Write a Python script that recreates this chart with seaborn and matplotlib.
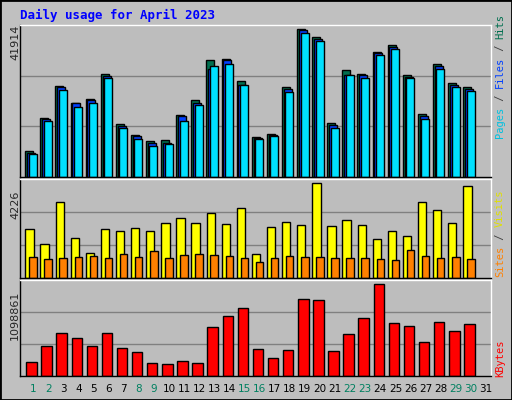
import numpy as np
import pandas as pd
import matplotlib
matplotlib.use("Agg")
import matplotlib.pyplot as plt
import seaborn as sns

days = list(range(1, 32))
hits = [7310, 16470, 25330, 20630, 21740, 28410, 14800, 11750, 10090, 10360, 17300, 21280, 32290, 32570, 26560, 11200, 12030, 24800, 40900, 38680, 15080, 29520, 28410, 34510, 36460, 28130, 17580, 31180, 25910, 24800, np.nan]
files = [6750, 16190, 24800, 20360, 21190, 27850, 14250, 11470, 9530, 9530, 17030, 20630, 29790, 32290, 25350, 10920, 11750, 24240, 40620, 38120, 14530, 28130, 28130, 34240, 35900, 27570, 17030, 30630, 25350, 24240, np.nan]
pages = [6480, 15640, 23970, 19520, 20630, 27300, 13690, 10640, 8700, 9250, 15640, 20080, 30630, 31180, 25350, 10640, 11470, 23410, 39790, 37570, 13690, 28130, 27300, 33680, 35350, 27300, 16190, 29790, 24800, 23690, np.nan]
visits = [2076, 1462, 3260, 1725, 1067, 2076, 1988, 2120, 1988, 2339, 2559, 2339, 2778, 2295, 2997, 1023, 2164, 2383, 2251, 4050, 2208, 2471, 2251, 1681, 1988, 1813, 3260, 2909, 2339, 3918, np.nan]
sites = [892, 804, 848, 892, 936, 848, 1023, 892, 1155, 848, 980, 1023, 980, 936, 848, 672, 848, 936, 892, 892, 848, 848, 848, 804, 760, 1199, 936, 848, 892, 804, np.nan]
kbytes = [165000, 349000, 487000, 441000, 349000, 487000, 326000, 280000, 154000, 142000, 177000, 154000, 557000, 684000, 776000, 315000, 211000, 303000, 879000, 868000, 292000, 476000, 661000, 1058000, 603000, 568000, 395000, 614000, 510000, 591000, np.nan]
weekend = [1, 2, 8, 9, 15, 16, 22, 23, 29, 30]

BG = "#c0c0c0"
fig = plt.figure(figsize=(5.12, 4.0), dpi=100, facecolor=BG)
sns.set_style("white")
plt.rcParams["font.family"] = ["DejaVu Sans Mono", "DejaVu Sans"]

def mkax(y0, y1):
    ax = fig.add_axes([20/512, 1 - y1/400, 471/512, (y1 - y0)/400])
    ax.set_facecolor("#bdbdbd")
    for s in ax.spines.values():
        s.set_color("black"); s.set_linewidth(1)
    ax.spines["top"].set_color("white"); ax.spines["right"].set_color("white")
    return ax

x = np.array(days, dtype=float)
df = pd.DataFrame(dict(day=x, hits=hits, files=files, pages=pages, visits=visits, sites=sites, kbytes=kbytes))

def bars(ax, off, col, color, w):
    sns.barplot(x=df["day"] + off, y=df[col], native_scale=True, width=w, color=color,
                edgecolor="black", linewidth=1, saturation=1, ax=ax, errorbar=None)

def finish(ax, top):
    ax.set_xlim(0.14, 31.33)
    ax.set_ylim(0, top)
    for f in (1/3, 2/3):
        ax.axhline(top * f, color="#808080", lw=1, zorder=0)
    ax.set_xlabel(""); ax.set_ylabel("")
    ax.set_xticks([]); ax.set_yticks([])

ax1 = mkax(25, 177)
bars(ax1, -0.25, "hits", "#006f4f", 0.53)
bars(ax1, -0.13, "files", "#0040ff", 0.53)
bars(ax1, -0.02, "pages", "#00e0ff", 0.53)
finish(ax1, 42100)
ax2 = mkax(179, 278)
bars(ax2, -0.23, "visits", "#ffff00", 0.55)
bars(ax2, 0.0, "sites", "#ff8000", 0.5)
finish(ax2, 4226)
ax3 = mkax(280, 376)
bars(ax3, -0.1, "kbytes", "#ff0000", 0.69)
finish(ax3, 1100000)

for d in days:
    fig.text((20 + (d - 0.14) / 31.19 * 471) / 512, 1 - 389/400, str(d), ha="center", va="center",
             fontsize=7.5, family="DejaVu Sans", color="#008060" if d in weekend else "black")

fig.text(20/512, 1 - 15/400, "Daily usage for April 2023", color="#0000ff", fontsize=9,
         fontweight="bold", va="center", ha="left")
for yy, lab in [(42, "41914"), (205, "4226"), (315, "1098861")]:
    fig.text(15/512, 1 - yy/400, lab, rotation=90, ha="center", va="center", fontsize=8, family="DejaVu Sans")

def rlabel(y_bottom, parts):
    y = y_bottom
    for txt, c in parts:
        fig.text(500/512, 1 - y/400, txt, rotation=90, ha="center", va="bottom", color=c, fontsize=7.5)
        y -= len(txt) * 6.2
rlabel(138, [("Pages", "#00c0e0"), (" / ", "#404040"), ("Files", "#0040ff"), (" / ", "#404040"), ("Hits", "#006f4f")])
rlabel(277, [("Sites", "#ff8000"), (" / ", "#404040"), ("Visits", "#e0e000")])
rlabel(377, [("KBytes", "#ff0000")])

border = plt.Rectangle((0, 0), 1, 1, transform=fig.transFigure, fill=False, edgecolor="black", lw=2)
fig.add_artist(border)
fig.savefig("out.png", dpi=100, facecolor=BG)
